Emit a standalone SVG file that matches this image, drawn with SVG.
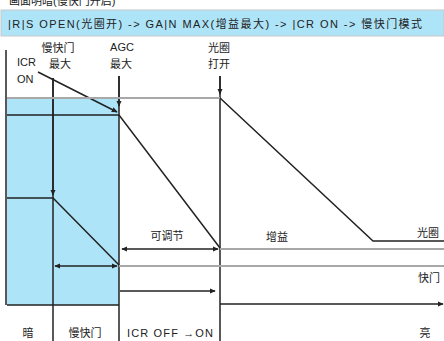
<svg xmlns="http://www.w3.org/2000/svg" width="444" height="341" viewBox="0 0 444 341">
<defs>
<style>
text{font-family:"Liberation Sans","Noto Sans CJK SC",sans-serif;font-size:11px;fill:#222}
.dk{stroke:#222;stroke-width:1.5;fill:none}
.gr{stroke:#a8a8a8;stroke-width:2;fill:none}
</style>
<marker id="ah" viewBox="0 0 8 8" refX="7" refY="4" markerWidth="6" markerHeight="6" orient="auto-start-reverse" markerUnits="userSpaceOnUse">
<path d="M0,0.5 L8,4 L0,7.5 z" fill="#222"/>
</marker>
</defs>
<rect width="444" height="341" fill="#fff"/>
<g id="title"><text x="9" y="5" font-size="12">画面明暗(慢快门开启)</text></g>
<g id="banner">
<rect x="1" y="10" width="443" height="26" fill="#aee4f8" stroke="#c8c8c8" stroke-width="1"/>
<text x="8" y="27.5" font-size="12.5" textLength="414" lengthAdjust="spacing">|R|S OPEN(光圈开) -&gt; GA|N MAX(增益最大) -&gt; |CR ON -&gt; 慢快门模式</text>
</g>
<g id="zone">
<rect x="7" y="98" width="112" height="207" fill="#aee4f8"/>
<path class="dk" d="M7,305 H119"/>
</g>
<g id="connectors">
<path class="dk" d="M6,50 V305"/>
<path class="dk" d="M53,78 V341"/>
<path class="dk" d="M119,76 V341"/>
<path class="dk" d="M220,76 V341"/>
<path class="dk" d="M53,78 V195" marker-end="url(#ah)"/>
<path class="dk" d="M119,76 V106" marker-end="url(#ah)"/>
<path class="dk" d="M220,76 V94" marker-end="url(#ah)"/>
<path class="dk" d="M38,72 L117,112" marker-end="url(#ah)"/>
<path class="gr" d="M7,98 H220"/>
<path class="dk" d="M7,115 H119 L220,248"/>
<path class="gr" d="M220,249 H444"/>
<path class="dk" d="M220,98 L373,241 H444"/>
<path class="dk" d="M7,198 H53 L119,265"/>
<path class="gr" d="M119,266 H444"/>
<path class="dk" d="M122,249 H218" marker-start="url(#ah)" marker-end="url(#ah)"/>
<path class="dk" d="M55,266 H117" marker-start="url(#ah)" marker-end="url(#ah)"/>
<path class="dk" d="M120,291 H215" marker-end="url(#ah)"/>
<path class="dk" d="M220,304 H443" marker-end="url(#ah)"/>
</g>
<g id="labels">
<text x="58" y="52" text-anchor="middle">慢快门</text>
<text x="60" y="68" text-anchor="middle">最大</text>
<text x="17" y="66">ICR</text>
<text x="17" y="83">ON</text>
<text x="122" y="51" text-anchor="middle">AGC</text>
<text x="121" y="68" text-anchor="middle">最大</text>
<text x="219" y="52" text-anchor="middle">光圈</text>
<text x="219" y="68" text-anchor="middle">打开</text>
<text x="167" y="240" text-anchor="middle">可调节</text>
<text x="277" y="241" text-anchor="middle">增益</text>
<text x="417" y="237">光圈</text>
<text x="418" y="282">快门</text>
<text x="28" y="337" text-anchor="middle">暗</text>
<text x="85" y="337" text-anchor="middle">慢快门</text>
<text x="127" y="337" textLength="86" lengthAdjust="spacing">ICR OFF →ON</text>
<text x="425" y="337" text-anchor="middle">亮</text>
</g>
</svg>
